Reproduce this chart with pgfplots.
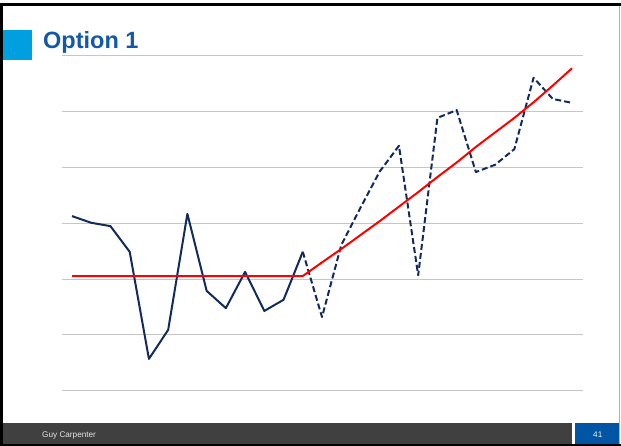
\documentclass[border=0pt]{standalone}
\usepackage{fontspec}
\setmainfont{Liberation Sans}
\usepackage{pgfplots}
\pgfplotsset{compat=1.18}

\definecolor{navy}{HTML}{112B5C}
\definecolor{titleblue}{HTML}{1259A8}
\definecolor{squareblue}{HTML}{00A0E0}
\definecolor{footgray}{HTML}{404040}
\definecolor{pageblue}{HTML}{0055A5}

\begin{document}
\begin{tikzpicture}
\useasboundingbox (0bp,0bp) rectangle (621bp,446bp);
\fill[white] (0bp,0bp) rectangle (621bp,446bp);

% slide frame
\fill[black] (0bp,0bp) rectangle (3bp,443bp);
\fill[black] (0bp,440bp) rectangle (621bp,443bp);
\fill[black] (0bp,0bp) rectangle (621bp,2bp);
\fill[gray!60] (619bp,2bp) rectangle (620bp,440bp);

% title
\fill[squareblue] (3bp,386bp) rectangle (32bp,416bp);
\node[anchor=base west, inner sep=0pt, text=titleblue,
      font=\fontsize{23.5bp}{28bp}\selectfont\bfseries] at (43bp,397bp) {Option 1};

% footer
\fill[footgray] (3bp,2bp) rectangle (572bp,23bp);
\fill[pageblue] (575bp,2bp) rectangle (619bp,23bp);
\node[anchor=base west, inner sep=0pt, text=gray!20,
      font=\fontsize{8.2bp}{10bp}\selectfont] at (42bp,9bp) {Guy Carpenter};
\node[anchor=base west, inner sep=0pt, text=white!90!gray,
      font=\fontsize{8.2bp}{10bp}\selectfont] at (593bp,9bp) {41};

\begin{axis}[
    at={(62bp,55.3bp)}, anchor=south west,
    scale only axis,
    width=521bp, height=334.7bp,
    xmin=-0.52, xmax=26.57,
    ymin=0, ymax=6,
    axis line style={draw=none},
    xtick=\empty,
    ytick={0,1,2,3,4,5,6},
    yticklabels={},
    major tick length=0pt,
    ymajorgrids,
    grid style={gray!45, line width=1bp},
    clip=false,
]
\addplot[navy, line width=2bp, line join=round] coordinates {
    (0,3.13) (1,3.01) (2,2.95) (3,2.49) (4,0.57) (5,1.09) (6,3.17)
    (7,1.79) (8,1.48) (9,2.13) (10,1.43) (11,1.63) (12,2.49)
};
\addplot[navy, line width=2bp, line join=round, dash pattern=on 6bp off 3bp] coordinates {
    (12,2.49) (13,1.32) (14,2.61) (15,3.28) (16,3.93) (17,4.39) (18,2.07)
    (19,4.89) (20,5.03) (21,3.92) (22,4.05) (23,4.33) (24,5.61) (25,5.23) (26,5.16)
};
\addplot[red, line width=2bp, line join=round] coordinates {
    (0,2.056) (12,2.056) (13,2.30) (14,2.54) (15,2.79) (16,3.04) (17,3.30)
    (18,3.56) (19,3.83) (20,4.09) (21,4.37) (22,4.63) (23,4.89) (24,5.17)
    (25,5.47) (26,5.78)
};
\end{axis}
\end{tikzpicture}
\end{document}
